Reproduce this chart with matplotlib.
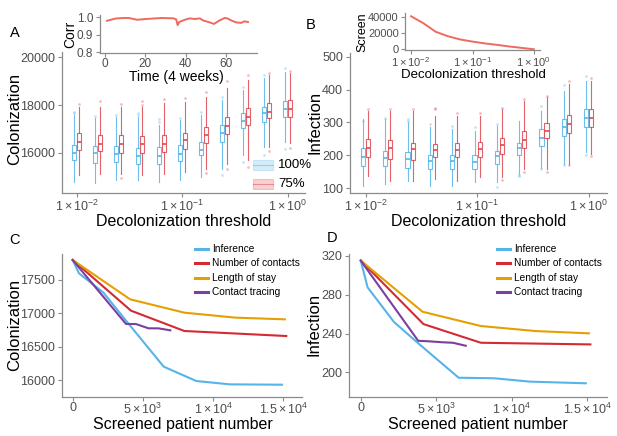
import numpy as np
import matplotlib
matplotlib.use("Agg")
import matplotlib.pyplot as plt
from matplotlib.lines import Line2D
from matplotlib.patches import Rectangle

plt.rcParams["font.family"] = ["Liberation Sans", "DejaVu Sans"]
plt.rcParams["mathtext.fontset"] = "custom"
plt.rcParams["mathtext.rm"] = "Liberation Sans"
plt.rcParams["mathtext.it"] = "Liberation Sans:italic"

# decolonization thresholds (11 levels)
thresholds = [0.01, 0.0158, 0.0251, 0.0398, 0.0631, 0.1, 0.158, 0.251, 0.398, 0.631, 1.0]

# panel A: colonization, 100% (blue) and 75% (red)
col100_med = [15970, 15970, 15940, 15870, 15870, 15940, 16100, 16810, 17340, 17650, 17850]
col100_q1 = [15680, 15570, 15590, 15520, 15500, 15640, 15900, 16460, 17020, 17300, 17510]
col100_q3 = [16320, 16290, 16270, 16180, 16230, 16320, 16460, 17160, 17650, 17930, 18180]
col100_lo = [14770, 14730, 14840, 14840, 14770, 14840, 14980, 15330, 15900, 16250, 16460]
col100_hi = [17580, 17440, 17480, 17510, 17160, 17370, 17580, 18210, 18630, 19120, 19400]
col100_out = [[17650, 17700], [17550], [17560], [17600, 17680], [17300, 17400], [17450],
              [17700], [18350, 15050], [18750, 15600], [19250, 15900], [19550, 16150]]

col75_med = [16460, 16360, 16360, 16360, 16360, 16530, 16740, 17120, 17510, 17720, 17850]
col75_q1 = [16100, 16060, 15990, 15990, 16030, 16150, 16390, 16780, 17160, 17440, 17510]
col75_q3 = [16810, 16760, 16740, 16710, 16740, 16830, 17090, 17510, 17860, 18100, 18210]
col75_lo = [15050, 15120, 15120, 15050, 15120, 15190, 15330, 15540, 15680, 16250, 16390]
col75_hi = [17930, 17930, 17930, 17930, 18070, 18140, 18350, 18700, 19050, 19260, 19330]
col75_out = [[18050], [18150], [18050, 14950], [18150, 18000], [18250], [18300],
             [18550, 15150], [19000, 15300], [19250, 15400], [19350, 16050], [19450, 16200]]

# panel B: infection
inf100_med = [194, 192, 189, 184, 184, 181, 197, 224, 254, 285, 315]
inf100_q1 = [168, 168, 163, 158, 158, 158, 173, 202, 229, 259, 285]
inf100_q3 = [224, 212, 209, 202, 202, 202, 212, 239, 280, 310, 341]
inf100_lo = [108, 113, 123, 108, 108, 118, 118, 143, 163, 173, 209]
inf100_hi = [310, 310, 300, 285, 280, 275, 290, 305, 335, 396, 427]
inf100_out = [[305], [315], [305, 310], [295], [290], [285], [295, 105], [140, 137],
              [350, 160], [415, 170], [440, 200]]

inf75_med = [224, 224, 219, 216, 217, 219, 232, 246, 273, 295, 313]
inf75_q1 = [194, 189, 186, 194, 194, 196, 204, 224, 254, 267, 285]
inf75_q3 = [249, 246, 239, 236, 239, 242, 254, 273, 297, 323, 341]
inf75_lo = [138, 123, 123, 128, 123, 133, 133, 158, 158, 173, 204]
inf75_hi = [335, 335, 335, 320, 320, 320, 340, 366, 376, 416, 427]
inf75_out = [[340], [340], [340], [345, 340], [330], [328], [345, 125], [370, 150],
             [380, 150], [425, 170], [435, 198]]

# inset A: correlation over time
corr_time = [1, 5.3, 9.3, 11.8, 15.9, 20, 28.2, 34, 35.3, 36.1, 36.8, 39.7, 42.1, 44.6,
             47.1, 48.7, 52, 54.1, 56.9, 59.4, 60.7, 62.7, 65.1, 67.6, 69.2, 71]
corr_val = [0.980, 0.993, 0.996, 0.996, 0.986, 0.990, 0.996, 0.994, 0.989, 0.955, 0.973,
            0.986, 0.994, 0.990, 0.994, 0.982, 0.971, 0.962, 0.982, 0.996, 0.994, 0.982,
            0.971, 0.968, 0.977, 0.973]

# inset B: screened patients vs threshold
screen = [40500, 32000, 21500, 16000, 12000, 9400, 7200, 5400, 3400, 1700, 0]

# panels C/D: strategies
inference_x = [0, 450, 2190, 3800, 6480, 8800, 11200, 14900]
inference_col = [17800, 17600, 17310, 16890, 16200, 15985, 15935, 15930]
inference_inf = [315, 287.5, 252, 230, 194.5, 194, 190.5, 188.8]
contacts_x = [0, 4150, 7950, 15200]
contacts_col = [17800, 17040, 16735, 16660]
contacts_inf = [315, 249.7, 230.5, 228.8]
stay_x = [0, 4090, 7950, 11600, 15100]
stay_col = [17800, 17210, 17010, 16935, 16910]
stay_inf = [315, 262.4, 247.7, 242.5, 240.2]
trace_x = [0, 3800, 4500, 5400, 6100, 6950]
trace_col = [17800, 16840, 16840, 16775, 16775, 16745]
trace_inf = [315, 232.5, 232, 231, 230.5, 227.4]

BLUE = "#56B4E9"
RED = "#E0454F"
GREY = "#4D4D4D"
AXC = "#8a8a8a"

W, H = 617, 436
fig = plt.figure(figsize=(W / 100, H / 100), dpi=100)


def px_axes(l, t, r, b):
    return fig.add_axes([l / W, 1 - b / H, (r - l) / W, (b - t) / H])


def ftext(x, y, s, **kw):
    fig.text(x / W, 1 - y / H, s, **kw)


def style(ax, size=9):
    for s in ["top", "right"]:
        ax.spines[s].set_visible(False)
    for s in ["left", "bottom"]:
        ax.spines[s].set_color(AXC)
        ax.spines[s].set_linewidth(0.9)
    ax.tick_params(colors=AXC, labelcolor=GREY, labelsize=size, length=3, width=0.8, pad=2)
    ax.tick_params(axis="x", pad=1)
    ax.set_facecolor("none")


def sci(v):
    if v == 0:
        return "0"
    e = int(np.floor(np.log10(abs(v))))
    m = v / 10 ** e
    ms = ("%g" % m)
    return r"$%s\times10^{%d}$" % (ms, e)


def boxes(ax, med, q1, q3, lo, hi, out, pos, color):
    stats = []
    for i in range(len(med)):
        stats.append(dict(med=med[i], q1=q1[i], q3=q3[i], whislo=lo[i], whishi=hi[i],
                          fliers=out[i]))
    ax.bxp(stats, positions=pos, widths=0.038, showcaps=False, patch_artist=True,
           boxprops=dict(facecolor="white", edgecolor=color, linewidth=0.8, alpha=0.85),
           medianprops=dict(color=color, linewidth=1.2),
           whiskerprops=dict(color=color, linewidth=0.8, alpha=0.85),
           flierprops=dict(marker="o", markersize=2, markerfacecolor=color,
                           markeredgecolor="none", alpha=0.35),
           manage_ticks=False)


logt = np.log10(thresholds)
dodge = 0.023


def box_panel(ax, m1, a1, b1, l1, h1, o1, m2, a2, b2, l2, h2, o2):
    boxes(ax, m1, a1, b1, l1, h1, o1, logt - dodge, BLUE)
    boxes(ax, m2, a2, b2, l2, h2, o2, logt + dodge, RED)
    ax.set_xlim(-2.14, 0.165)
    ax.set_xticks([-2, -1, 0])
    ax.set_xticklabels([sci(10.0 ** k) for k in [-2, -1, 0]])
    style(ax)


# panel A
axA = px_axes(62, 52, 305, 193)
box_panel(axA, col100_med, col100_q1, col100_q3, col100_lo, col100_hi, col100_out,
          col75_med, col75_q1, col75_q3, col75_lo, col75_hi, col75_out)
axA.set_ylim(14300, 20230)
axA.set_yticks([16000, 18000, 20000])

# legend A
for yy, c, lab in [(165, BLUE, "100%"), (184, RED, "75%")]:
    fig.add_artist(Rectangle(((253) / W, 1 - (yy + 5) / H), 20 / W, 10 / H,
                             transform=fig.transFigure, facecolor=c, alpha=0.25,
                             edgecolor=c, linewidth=0.8))
    fig.add_artist(Line2D([253 / W, 273 / W], [1 - yy / H] * 2, transform=fig.transFigure,
                          color=c, alpha=0.5, linewidth=0.8))
    ftext(278, yy, lab, fontsize=9.5, va="center", ha="left", color="black")

# panel B
axB = px_axes(350, 53, 607, 193.3)
box_panel(axB, inf100_med, inf100_q1, inf100_q3, inf100_lo, inf100_hi, inf100_out,
          inf75_med, inf75_q1, inf75_q3, inf75_lo, inf75_hi, inf75_out)
axB.set_ylim(85, 511)
axB.set_yticks([100, 200, 300, 400, 500])

# inset A
iA = px_axes(100, 15, 257, 53.3)
iA.plot(corr_time, corr_val, color="#EF6A5E", linewidth=1.4)
iA.set_xlim(-2.5, 75.5)
iA.set_ylim(0.795, 1.013)
iA.set_xticks([0, 20, 40, 60])
iA.set_yticks([0.8, 0.9, 1.0])
iA.set_yticklabels(["0.8", "0.9", "1.0"])
style(iA, 8.5)
iA.tick_params(axis="x", pad=0.5)

# inset B
iB = px_axes(405, 13, 540, 50)
iB.plot(thresholds, screen, color="#EF6A5E", linewidth=1.4)
iB.set_xscale("log")
iB.set_xlim(10 ** -2.1, 10 ** 0.1)
iB.set_ylim(-900, 44500)
iB.set_xticks([0.01, 0.1, 1])
iB.set_xticklabels([sci(v) for v in [0.01, 0.1, 1]])
iB.minorticks_off()
iB.set_yticks([0, 20000, 40000])
style(iB, 8)
iB.tick_params(axis="x", pad=0.5)
iB.tick_params(axis="y", pad=1.5)

# panels C and D
lines = [("Inference", BLUE), ("Number of contacts", "#D42A34"),
         ("Length of stay", "#E69F00"), ("Contact tracing", "#7B3F9E")]


def line_panel(ax, ys):
    xs = [inference_x, contacts_x, stay_x, trace_x]
    for (lab, c), x, y in zip(lines, xs, ys):
        ax.plot(x, y, color=c, linewidth=1.5)
    ax.set_xlim(-780, 16300)
    ax.set_xticks([0, 5000, 10000, 15000])
    ax.set_xticklabels([sci(v) for v in [0, 5000, 10000, 15000]])
    style(ax)


axC = px_axes(61.7, 254.3, 301.7, 396.7)
line_panel(axC, [inference_col, contacts_col, stay_col, trace_col])
axC.set_ylim(15750, 17885)
axC.set_yticks([16000, 16500, 17000, 17500])

axD = px_axes(349, 254.3, 607, 396.7)
line_panel(axD, [inference_inf, contacts_inf, stay_inf, trace_inf])
axD.set_ylim(175, 321.5)
axD.set_yticks([200, 240, 280, 320])

for kx, tx in [(195, 211.7), (496.7, 514.3)]:
    for (lab, c), yy in zip(lines, [249.3, 263.3, 277.7, 291.7]):
        fig.add_artist(Line2D([kx / W, (kx + 13) / W], [1 - yy / H] * 2,
                              transform=fig.transFigure, color=c, linewidth=2.2))
        ftext(tx, yy, lab, fontsize=7.3, va="center", ha="left")

# titles
ftext(15, 119, "Colonization", rotation=90, fontsize=12, ha="center", va="center")
ftext(183.5, 221, "Decolonization threshold", fontsize=11.5, ha="center", va="center")
ftext(315, 122, "Infection", rotation=90, fontsize=12, ha="center", va="center")
ftext(478.5, 221, "Decolonization threshold", fontsize=11.5, ha="center", va="center")
ftext(70, 34.5, "Corr", rotation=90, fontsize=10, ha="center", va="center")
ftext(176.7, 77.5, "Time (4 weeks)", fontsize=10, ha="center", va="center")
ftext(362.5, 32.5, "Screen", rotation=90, fontsize=9, ha="center", va="center")
ftext(473, 75, "Decolonization threshold", fontsize=9.5, ha="center", va="center")
ftext(15, 325, "Colonization", rotation=90, fontsize=12, ha="center", va="center")
ftext(183.3, 424, "Screened patient number", fontsize=11.5, ha="center", va="center")
ftext(314, 324, "Infection", rotation=90, fontsize=12, ha="center", va="center")
ftext(477.5, 424, "Screened patient number", fontsize=11.5, ha="center", va="center")

for lab, x, y in [("A", 15, 33), ("B", 311, 25), ("C", 15, 240), ("D", 331.7, 238.3)]:
    ftext(x, y, lab, fontsize=10.5, ha="center", va="center")

fig.savefig("out.png", dpi=100)
